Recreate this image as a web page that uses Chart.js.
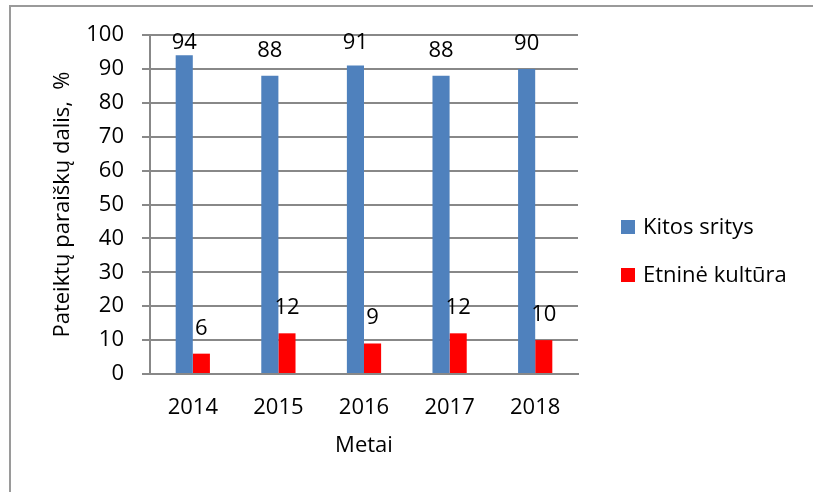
<!DOCTYPE html>
<html>
<head>
<meta charset="utf-8">
<script src="https://cdn.jsdelivr.net/npm/chart.js@4/dist/chart.umd.min.js"></script>
<style>
  html, body { margin: 0; padding: 0; background: #fff; }
  #wrap { position: relative; width: 813px; height: 492px; overflow: hidden; }
  #frame { position: absolute; left: 9px; top: 5px; width: 900px; height: 600px;
           border-left: 2px solid #9a9a9a; border-top: 2px solid #9a9a9a; }
  canvas { position: absolute; left: 0; top: 0; }
</style>
</head>
<body>
<div id="wrap">
  <div id="frame"></div>
  <canvas id="chart" width="813" height="492"></canvas>
</div>
<script>
'use strict';

const years = ['2014', '2015', '2016', '2017', '2018'];
const otherAreas = [94, 88, 91, 88, 90];
const ethnicCulture = [6, 12, 9, 12, 10];
const seriesNames = ['Kitos sritys', 'Etninė kultūra'];
const seriesColors = ['#4f81bd', '#ff0000'];

const fontFamily = '"Open Sans", sans-serif';
const gridColor = '#888888';

// value labels above every bar
const barLabels = {
  id: 'barLabels',
  afterDatasetsDraw(chart) {
    const ctx = chart.ctx;
    ctx.save();
    ctx.font = '22px ' + fontFamily;
    ctx.fillStyle = '#000';
    ctx.textAlign = 'center';
    ctx.textBaseline = 'alphabetic';
    chart.data.datasets.forEach((ds, i) => {
      chart.getDatasetMeta(i).data.forEach((bar, j) => {
        let y = Math.max(bar.y - 19, 49);
        ctx.fillText(ds.data[j], bar.x, y);
      });
    });
    ctx.restore();
  }
};

// legend on the right, built from the datasets
const sideLegend = {
  id: 'sideLegend',
  afterDraw(chart) {
    const ctx = chart.ctx;
    const rows = [227, 275];
    ctx.save();
    ctx.font = '22px ' + fontFamily;
    ctx.textBaseline = 'middle';
    chart.data.datasets.forEach((ds, i) => {
      ctx.fillStyle = ds.backgroundColor;
      ctx.fillRect(621, rows[i] - 7, 14, 14);
      ctx.fillStyle = '#000';
      ctx.fillText(ds.label, 643, rows[i] + 1);
    });
    ctx.restore();
  }
};

const chartConfig = {
  type: 'bar',
  data: {
    labels: years,
    datasets: [
      { label: seriesNames[0], data: otherAreas, backgroundColor: seriesColors[0] },
      { label: seriesNames[1], data: ethnicCulture, backgroundColor: seriesColors[1] }
    ]
  },
  options: {
    responsive: false,
    animation: false,
    layout: { padding: { left: 0, right: 235, top: 35, bottom: 0 } },
    datasets: { bar: { categoryPercentage: 0.4, barPercentage: 1.0 } },
    plugins: {
      legend: { display: false },
      tooltip: { enabled: false }
    },
    scales: {
      x: {
        grid: { display: false, drawTicks: false },
        border: { display: true, color: gridColor, width: 2 },
        ticks: { color: '#000', font: { family: fontFamily, size: 22 }, padding: 21 },
        title: {
          display: true, text: 'Metai', color: '#000',
          font: { family: fontFamily, size: 22 }, padding: { top: 33, bottom: 33 }
        },
        afterFit(scale) { scale.height = 118; }
      },
      y: {
        min: 0,
        max: 100,
        ticks: { stepSize: 10, color: '#000', font: { family: fontFamily, size: 22 }, padding: 18 },
        grid: { color: gridColor, lineWidth: 2, tickLength: 8, tickColor: gridColor },
        border: { display: true, color: gridColor, width: 2 },
        title: {
          display: true, text: 'Pateiktų paraiškų dalis,  %', color: '#000',
          font: { family: fontFamily, size: 22 }, padding: { top: 50, bottom: 50 }
        },
        afterFit(scale) { scale.width = 150; }
      }
    }
  },
  plugins: [barLabels, sideLegend]
};

const canvasChart = document.getElementById('chart').getContext('2d');
const myChart = new Chart(canvasChart, chartConfig);
</script>
</body>
</html>
